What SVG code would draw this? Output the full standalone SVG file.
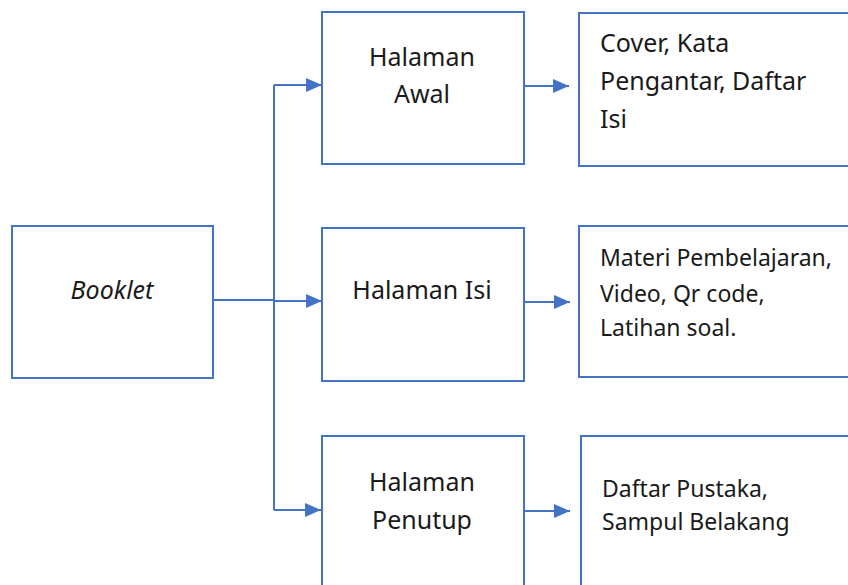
<svg xmlns="http://www.w3.org/2000/svg" width="848" height="585" viewBox="0 0 848 585">
  <defs>
    <style>
      .box { fill: #ffffff; stroke: #4472C4; stroke-width: 2; }
      .conn { fill: none; stroke: #4472C4; stroke-width: 2; }
      .t { font-family: "Noto Sans", "Open Sans", "Liberation Sans", sans-serif; fill: #1a1a1a; }
      .big { font-size: 25px; }
      .small { font-size: 23px; }
      .mid { text-anchor: middle; }
    </style>
    <marker id="arrow" markerUnits="userSpaceOnUse" markerWidth="16" markerHeight="14" refX="16" refY="7" orient="auto">
      <path d="M0,0 L16,7 L0,14 Z" fill="#4472C4"/>
    </marker>
  </defs>
  <rect width="848" height="585" fill="#ffffff"/>

  <g id="connectors">
    <path class="conn" d="M213,300 L274,300"/>
    <path class="conn" d="M274,85 L274,510"/>
    <path class="conn" d="M274,85 L322,85" marker-end="url(#arrow)"/>
    <path class="conn" d="M274,301 L322,301" marker-end="url(#arrow)"/>
    <path class="conn" d="M274,510 L321,510" marker-end="url(#arrow)"/>
    <path class="conn" d="M524,86 L569,86" marker-end="url(#arrow)"/>
    <path class="conn" d="M524,302 L570,302" marker-end="url(#arrow)"/>
    <path class="conn" d="M524,511 L570,511" marker-end="url(#arrow)"/>
  </g>

  <g id="booklet">
    <rect class="box" x="12" y="226" width="201" height="152"/>
    <text class="t big mid" x="112" y="299" font-style="italic">Booklet</text>
  </g>

  <g id="halaman-awal">
    <rect class="box" x="322" y="12" width="202" height="152"/>
    <text class="t big mid" x="422" y="66">Halaman</text>
    <text class="t big mid" x="422" y="103">Awal</text>
  </g>

  <g id="halaman-isi">
    <rect class="box" x="322" y="228" width="202" height="153"/>
    <text class="t big mid" x="422" y="299">Halaman Isi</text>
  </g>

  <g id="halaman-penutup">
    <rect class="box" x="322" y="436" width="202" height="160"/>
    <text class="t big mid" x="422" y="491">Halaman</text>
    <text class="t big mid" x="422" y="529">Penutup</text>
  </g>

  <g id="isi-awal">
    <rect class="box" x="579" y="13" width="290" height="153"/>
    <text class="t big" x="600" y="52">Cover, Kata</text>
    <text class="t big" x="600" y="90">Pengantar, Daftar</text>
    <text class="t big" x="600" y="128">Isi</text>
  </g>

  <g id="isi-isi">
    <rect class="box" x="579" y="226" width="290" height="151"/>
    <text class="t small" x="600" y="266">Materi Pembelajaran,</text>
    <text class="t small" x="600" y="302">Video, Qr code,</text>
    <text class="t small" x="600" y="336">Latihan soal.</text>
  </g>

  <g id="isi-penutup">
    <rect class="box" x="581" y="436" width="290" height="160"/>
    <text class="t small" x="602" y="497">Daftar Pustaka,</text>
    <text class="t small" x="602" y="530">Sampul Belakang</text>
  </g>
</svg>
